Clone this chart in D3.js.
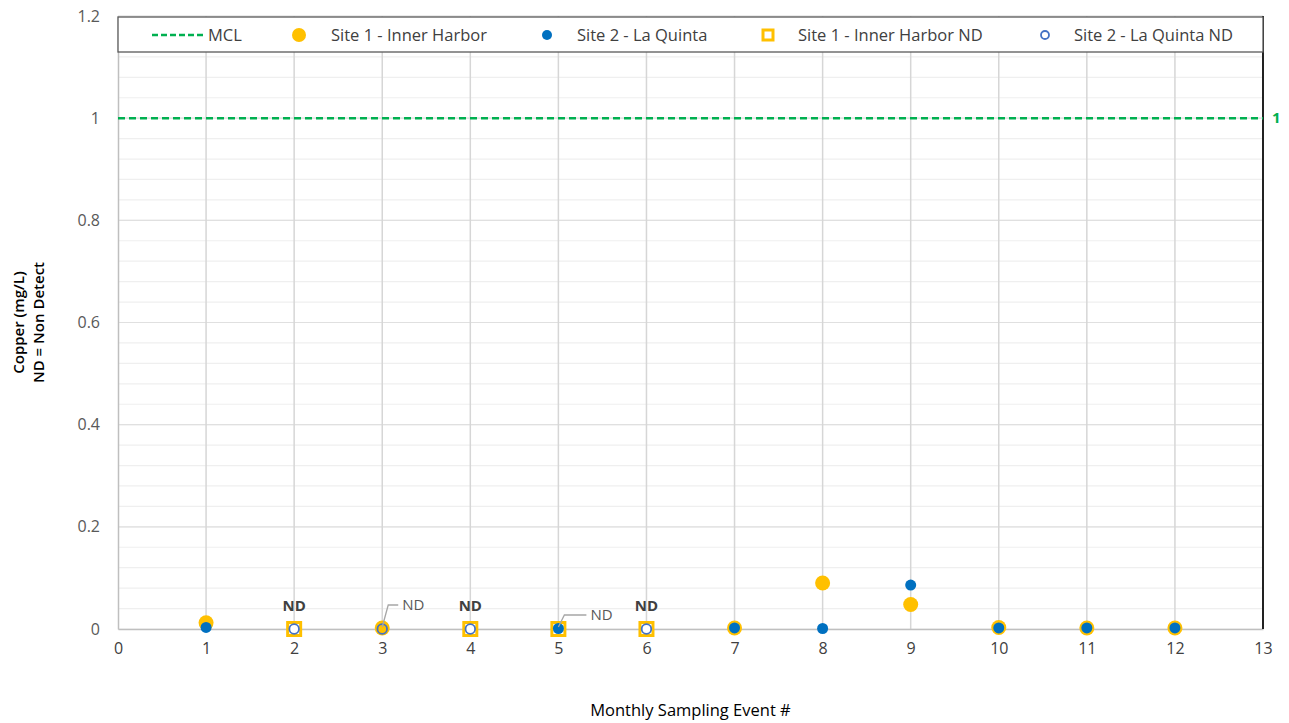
<!DOCTYPE html>
<html>
<head>
<meta charset="utf-8">
<script src="https://cdn.jsdelivr.net/npm/d3@7"></script>
<style>
  body { margin: 0; background: #fff; }
  text { font-family: "Open Sans", "Liberation Sans", sans-serif; }
</style>
</head>
<body>
<svg id="chart" width="1289" height="723"></svg>
<script>
// events and readings (mg/L)
const events = [1, 2, 3, 4, 5, 6, 7, 8, 9, 10, 11, 12];
const site1 = [0.012, null, 0.002, null, null, null, 0.002, 0.090, 0.048, 0.003, 0.002, 0.002];
const site2 = [0.003, null, null, null, 0.001, null, 0.002, 0.001, 0.086, 0.002, 0.002, 0.002];
const site1ND = [2, 4, 5, 6];
const site2ND = [2, 3, 4, 6];
const mcl = 1;
const xTicks = d3.range(0, 14);
const yTicks = [0, 0.2, 0.4, 0.6, 0.8, 1, 1.2];
const boldND = [2, 4, 6];
const calloutND = [{ ev: 3, dx: 30, dy: -24 }, { ev: 5, dx: 42, dy: -14 }];

const margin = { top: 16, right: 26, bottom: 94, left: 118 };
const W = 1289, H = 723;
const width = W - margin.left - margin.right;
const height = H - margin.top - margin.bottom;

const svg = d3.select("#chart");
const g = svg.append("g").attr("transform", `translate(${margin.left},${margin.top})`);

const x = d3.scaleLinear().domain([0, 13]).range([0, width]);
const y = d3.scaleLinear().domain([0, 1.2]).range([height, 0]);

// minor horizontal grid
g.append("g").selectAll("line")
  .data(d3.range(0, 1.2001, 0.04))
  .enter().append("line")
  .attr("x1", 0).attr("x2", width)
  .attr("y1", d => y(d)).attr("y2", d => y(d))
  .attr("stroke", "#efefef").attr("stroke-width", 1.2);

// major horizontal grid
g.append("g").selectAll("line")
  .data(yTicks.slice(1))
  .enter().append("line")
  .attr("x1", 0).attr("x2", width)
  .attr("y1", d => y(d)).attr("y2", d => y(d))
  .attr("stroke", "#e0e0e0").attr("stroke-width", 1.2);

// vertical grid
g.append("g").selectAll("line")
  .data(xTicks.slice(1, -1))
  .enter().append("line")
  .attr("x1", d => x(d)).attr("x2", d => x(d))
  .attr("y1", 0).attr("y2", height)
  .attr("stroke", "#d6d6d6").attr("stroke-width", 1.5);

// axes
const xAxis = g.append("g")
  .attr("transform", `translate(0,${height})`)
  .call(d3.axisBottom(x).tickValues(xTicks).tickSize(0).tickPadding(14).tickFormat(d3.format("d")));
xAxis.select(".domain").attr("stroke", "#bfbfbf").attr("stroke-width", 1.5);
xAxis.selectAll("text").attr("fill", "#404040").style("font-size", "16px");

const yAxis = g.append("g")
  .call(d3.axisLeft(y).tickValues(yTicks).tickSize(0).tickPadding(18).tickFormat(d => d3.format("~g")(d)));
yAxis.select(".domain").attr("stroke", "#bfbfbf").attr("stroke-width", 1.5);
yAxis.selectAll("text").attr("fill", "#595959").style("font-size", "16px");

// right frame
g.append("line")
  .attr("x1", width).attr("x2", width).attr("y1", 0).attr("y2", height)
  .attr("stroke", "#222").attr("stroke-width", 2);

// MCL line
g.append("line")
  .attr("x1", 0).attr("x2", width)
  .attr("y1", y(mcl)).attr("y2", y(mcl))
  .attr("stroke", "#00b050").attr("stroke-width", 2.5)
  .attr("stroke-dasharray", "7,4");
g.append("text")
  .attr("x", width + 9).attr("y", y(mcl)).attr("dy", "0.35em")
  .attr("fill", "#00b050").style("font-size", "15px").style("font-weight", "bold")
  .text(mcl);

// site 1 ND squares
g.append("g").selectAll("rect")
  .data(site1ND)
  .enter().append("rect")
  .attr("x", d => x(d) - 6.5).attr("y", y(0) - 6.5)
  .attr("width", 13).attr("height", 13)
  .attr("fill", "#fff").attr("stroke", "#ffc000").attr("stroke-width", 3);

// site 1 values
g.append("g").selectAll("circle")
  .data(events.map((e, i) => [e, site1[i]]).filter(d => d[1] !== null))
  .enter().append("circle")
  .attr("cx", d => x(d[0])).attr("cy", d => y(d[1]))
  .attr("r", 7.5).attr("fill", "#ffc000");

// site 2 ND rings
g.append("g").selectAll("circle")
  .data(site2ND)
  .enter().append("circle")
  .attr("cx", d => x(d)).attr("cy", y(0))
  .attr("r", 4.8).attr("fill", "none")
  .attr("stroke", "#4472c4").attr("stroke-width", 1.8);

// site 2 values
g.append("g").selectAll("circle")
  .data(events.map((e, i) => [e, site2[i]]).filter(d => d[1] !== null))
  .enter().append("circle")
  .attr("cx", d => x(d[0])).attr("cy", d => y(d[1]))
  .attr("r", 5.5).attr("fill", "#0070c0");

// ND labels
g.append("g").selectAll("text")
  .data(boldND)
  .enter().append("text")
  .attr("x", d => x(d)).attr("y", y(0) - 18)
  .attr("text-anchor", "middle")
  .attr("fill", "#404040").style("font-size", "15px").style("font-weight", "bold")
  .text("ND");

const callouts = g.append("g");
calloutND.forEach(c => {
  const px = x(c.ev), py = y(0);
  callouts.append("path")
    .attr("d", `M${px},${py - 2} L${px + 6},${py + c.dy} L${px + c.dx - 14},${py + c.dy}`)
    .attr("fill", "none").attr("stroke", "#a6a6a6").attr("stroke-width", 1.3);
  callouts.append("text")
    .attr("x", px + c.dx - 10).attr("y", py + c.dy).attr("dy", "0.35em")
    .attr("fill", "#595959").style("font-size", "15px")
    .text("ND");
});

// legend
const lg = svg.append("g").attr("transform", `translate(${margin.left},${margin.top})`);
lg.append("rect")
  .attr("x", 0).attr("y", 1).attr("width", width).attr("height", 35)
  .attr("fill", "#fff").attr("stroke", "#595959").attr("stroke-width", 1.3);
const ly = 19;
const items = [
  { label: "MCL", sx: 34, tx: 90, type: "line" },
  { label: "Site 1 - Inner Harbor", sx: 181, tx: 213, type: "s1" },
  { label: "Site 2 - La Quinta", sx: 429, tx: 459, type: "s2" },
  { label: "Site 1 - Inner Harbor ND", sx: 650, tx: 680, type: "s1nd" },
  { label: "Site 2 - La Quinta ND", sx: 927, tx: 956, type: "s2nd" }
];
items.forEach(it => {
  if (it.type === "line") {
    lg.append("line").attr("x1", it.sx).attr("x2", it.sx + 51).attr("y1", ly).attr("y2", ly)
      .attr("stroke", "#00b050").attr("stroke-width", 2.5).attr("stroke-dasharray", "6,3");
  } else if (it.type === "s1") {
    lg.append("circle").attr("cx", it.sx).attr("cy", ly).attr("r", 7).attr("fill", "#ffc000");
  } else if (it.type === "s2") {
    lg.append("circle").attr("cx", it.sx).attr("cy", ly).attr("r", 5).attr("fill", "#0070c0");
  } else if (it.type === "s1nd") {
    lg.append("rect").attr("x", it.sx - 5).attr("y", ly - 5).attr("width", 10).attr("height", 10)
      .attr("fill", "#fff").attr("stroke", "#ffc000").attr("stroke-width", 3);
  } else {
    lg.append("circle").attr("cx", it.sx).attr("cy", ly).attr("r", 4).attr("fill", "none")
      .attr("stroke", "#4472c4").attr("stroke-width", 1.8);
  }
  lg.append("text").attr("x", it.tx).attr("y", ly).attr("dy", "0.35em")
    .attr("fill", "#404040").style("font-size", "16.5px").text(it.label);
});

// axis titles
svg.append("text")
  .attr("x", margin.left + width / 2).attr("y", 716)
  .attr("text-anchor", "middle").attr("fill", "#000").style("font-size", "16.5px")
  .text("Monthly Sampling Event #");

const yt = svg.append("text")
  .attr("transform", `translate(24,${margin.top + height / 2}) rotate(-90)`)
  .attr("text-anchor", "middle").attr("fill", "#000").style("font-size", "15px").style("font-weight", "600");
yt.append("tspan").attr("x", 0).attr("dy", 0).text("Copper (mg/L)");
yt.append("tspan").attr("x", 0).attr("dy", "1.35em").text("ND = Non Detect");
</script>
</body>
</html>
